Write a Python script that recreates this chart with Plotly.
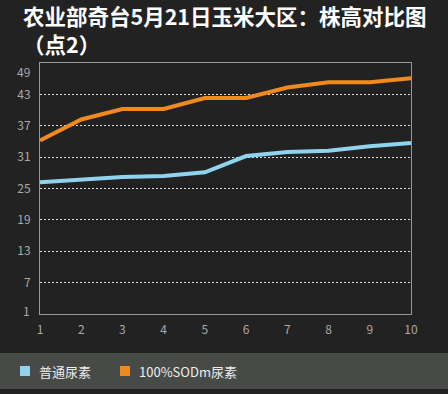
import plotly.graph_objects as go

x_vals = [1, 2, 3, 4, 5, 6, 7, 8, 9, 10]
series_names = ["普通尿素", "100%SODm尿素"]
normal_urea = [26.2, 26.7, 27.2, 27.4, 28.1, 31.2, 32.0, 32.2, 33.1, 33.7]
sodm_urea = [34.2, 38.2, 40.2, 40.2, 42.3, 42.3, 44.3, 45.3, 45.3, 46.1]
y_ticks = [1, 7, 13, 19, 25, 31, 37, 43, 49]
colors = ["#8fd3ee", "#f08a1c"]
title_lines = ["农业部奇台5月21日玉米大区：株高对比图", "（点2）"]

W, H = 448, 394
L, R, T, B = 40, 37, 63, 80
pw, ph = W - L - R, H - T - B


def px_x(p):
    return (p - L) / pw


def px_y(p):
    return (H - B - p) / ph


fig = go.Figure()
for name, vals, c in zip(series_names, [normal_urea, sodm_urea], colors):
    fig.add_trace(go.Scatter(x=x_vals, y=vals, mode="lines", name=name,
                             line=dict(color=c, width=4), showlegend=False,
                             hoverinfo="skip"))

tick_font = dict(family="Noto Sans CJK SC, DejaVu Sans", color="#aaaaaa", size=12)

# legend (drawn manually to match spacing)
legend_sq_left = [20, 120]
legend_y = 371
shapes = [dict(type="rect", xref="paper", yref="paper", layer="below",
               x0=px_x(0), x1=px_x(W), y0=px_y(389), y1=px_y(353),
               fillcolor="#474a47", line=dict(width=0))]
annotations = []
for line, cy in zip(title_lines, (15.5, 43.5)):
    annotations.append(dict(text="<b>" + line + "</b>", xref="paper", yref="paper",
                            x=px_x(22), y=px_y(cy), xanchor="left", yanchor="middle",
                            align="left", showarrow=False, borderpad=0,
                            font=dict(family="Noto Sans CJK SC", size=21.5, color="#ffffff")))
for name, c, sx in zip(series_names, colors, legend_sq_left):
    shapes.append(dict(type="rect", xref="paper", yref="paper",
                       x0=px_x(sx), x1=px_x(sx + 10), y0=px_y(legend_y + 5), y1=px_y(legend_y - 5),
                       fillcolor=c, line=dict(width=0)))
    annotations.append(dict(text=name, xref="paper", yref="paper",
                            x=px_x(sx + 17), y=px_y(legend_y), xanchor="left", yanchor="middle",
                            showarrow=False,
                            font=dict(family="Noto Sans CJK SC, DejaVu Sans", size=13, color="#eeeeee")))

# end tick labels are nudged inward like in the reference
tick_text = [str(v) for v in y_ticks]
tick_text[0] = ""
tick_text[-1] = ""
for v, shift in ((y_ticks[0], 4), (y_ticks[-1], -8)):
    annotations.append(dict(text=str(v), xref="paper", yref="y", x=0, y=v,
                            xanchor="right", yanchor="middle", xshift=-8, yshift=shift,
                            showarrow=False, font=tick_font))

fig.update_layout(
    width=W, height=H,
    paper_bgcolor="#222222", plot_bgcolor="#222222",
    margin=dict(l=L, r=R, t=T, b=B, autoexpand=False),
    font=dict(family="Noto Sans CJK SC, DejaVu Sans", color="#aaaaaa", size=12),
    showlegend=False,
    annotations=annotations,
    shapes=shapes,
)
fig.update_xaxes(range=[1, 10], tickvals=x_vals, showgrid=False, zeroline=False,
                 showline=True, mirror=True, linecolor="#999999", linewidth=1,
                 ticks="", ticklabelstandoff=5, tickfont=tick_font)
fig.update_yaxes(range=[1, 49], tickvals=y_ticks, ticktext=tick_text, showgrid=True,
                 gridcolor="#dddddd", griddash="2px,2px", gridwidth=1, zeroline=False,
                 showline=True, mirror=True, linecolor="#999999", linewidth=1,
                 ticks="", ticklabelstandoff=6, tickfont=tick_font)

fig.write_html("out.html", config={"displayModeBar": False})
with open("out.html", "r", encoding="utf-8") as f:
    html = f.read()
html = html.replace("<body>", '<body style="margin:0;padding:0;background:#222222;">', 1)
with open("out.html", "w", encoding="utf-8") as f:
    f.write(html)
